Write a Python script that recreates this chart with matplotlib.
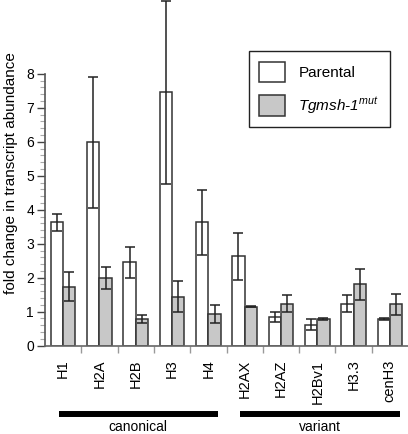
import numpy as np
import matplotlib
matplotlib.use("Agg")
import matplotlib.pyplot as plt
from matplotlib.ticker import FixedLocator
from matplotlib.transforms import blended_transform_factory

plt.rcParams['font.family'] = ['Liberation Sans', 'DejaVu Sans']
plt.rcParams['mathtext.fontset'] = 'custom'
plt.rcParams['mathtext.rm'] = 'Liberation Sans'
plt.rcParams['mathtext.it'] = 'Liberation Sans:italic'

# Data
histones = ['H1', 'H2A', 'H2B', 'H3', 'H4', 'H2AX', 'H2AZ', 'H2Bv1', 'H3.3', 'cenH3']
parental = [3.63, 5.98, 2.45, 7.45, 3.63, 2.63, 0.84, 0.62, 1.24, 0.78]
parental_err = [0.25, 1.93, 0.45, 2.70, 0.95, 0.69, 0.14, 0.17, 0.26, 0.02]
mutant = [1.74, 2.00, 0.78, 1.44, 0.94, 1.15, 1.24, 0.79, 1.80, 1.22]
mutant_err = [0.43, 0.32, 0.12, 0.45, 0.27, 0.02, 0.25, 0.02, 0.45, 0.31]
groups = [('canonical', 0, 4), ('variant', 5, 9)]

x = np.arange(len(histones))
w = 0.34

fig = plt.figure(figsize=(4.08, 4.34), dpi=100)
ax = fig.add_axes([0.1103, 0.2035, 0.8897, 0.7965])

err_kw = dict(ecolor='#222222', elinewidth=1.1, capsize=3.9, capthick=1.1)
ax.bar(x - w / 2, parental, w, yerr=parental_err, color='white',
       edgecolor='#333333', linewidth=1.1, error_kw=err_kw, label='Parental')
ax.bar(x + w / 2, mutant, w, yerr=mutant_err, color='#c8c8c8',
       edgecolor='#333333', linewidth=1.1, error_kw=err_kw,
       label='Tgmsh-1$^{mut}$')

ax.set_xlim(-0.5, len(histones) - 0.5)
ax.set_ylim(0, 10.17)

for side in ['top', 'right']:
    ax.spines[side].set_visible(False)
ax.spines['left'].set_bounds(0, 8)
ax.spines['left'].set_color('#555555')
ax.spines['bottom'].set_color('#666666')
ax.spines['left'].set_linewidth(1.2)
ax.spines['bottom'].set_linewidth(1.2)

ax.yaxis.set_major_locator(FixedLocator(range(0, 9)))
ax.yaxis.set_minor_locator(FixedLocator(np.arange(0, 8.01, 0.2)))
ax.tick_params(axis='y', which='major', length=6, width=1.0, color='#444444',
               labelsize=10, pad=2)
ax.tick_params(axis='y', which='minor', length=3.5, width=0.8, color='#aaaaaa')

ax.set_xticks(x)
ax.set_xticklabels(histones, rotation=90, fontsize=10.5)
ax.xaxis.set_minor_locator(FixedLocator(x[:-1] + 0.5))
ax.tick_params(axis='x', which='major', length=0, pad=10)
ax.tick_params(axis='x', which='minor', length=5, width=1.0, color='#999999')

ax.set_ylabel('fold change in transcript abundance', fontsize=11, labelpad=6)

# group bars below the category labels
trans = blended_transform_factory(ax.transData, ax.transAxes)
for name, first, last in groups:
    ax.plot([first - 0.12, last + 0.27], [-0.197, -0.197], color='black',
            linewidth=4.3, solid_capstyle='butt', transform=trans, clip_on=False)
    ax.text((first + last) / 2 + 0.07, -0.246, name, transform=trans,
            ha='center', va='baseline', fontsize=10)

leg = ax.legend(loc='upper left', bbox_to_anchor=(0.6096, 0.8825),
                bbox_transform=fig.transFigure, borderaxespad=0,
                fancybox=False, edgecolor='#222222', framealpha=1,
                fontsize=11, handlelength=1.7, handleheight=1.7,
                handletextpad=0.85, labelspacing=0.85, borderpad=0.7)
leg.get_frame().set_linewidth(1.0)
leg.get_texts()[1].set_fontstyle('italic')

fig.savefig('out.png', dpi=100)
